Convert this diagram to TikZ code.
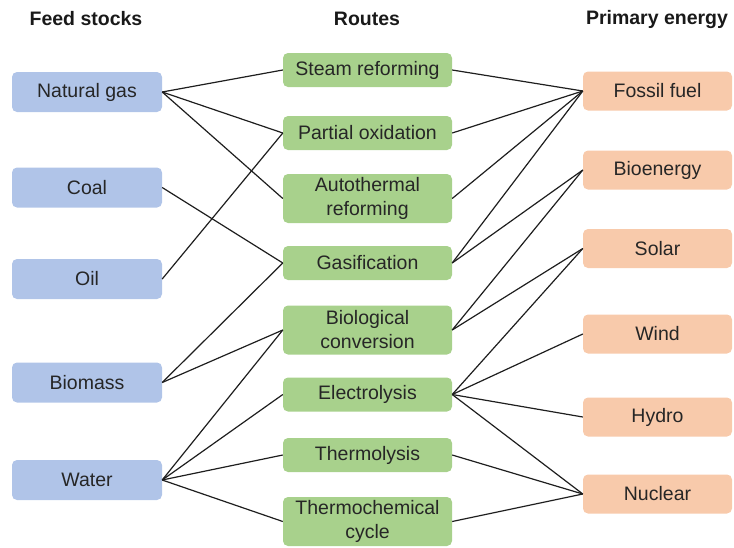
\documentclass[tikz,border=0pt]{standalone}
\usepackage{fontspec}
\setmainfont{Liberation Sans}
\definecolor{feedc}{HTML}{B0C4E8}
\definecolor{routec}{HTML}{A8D18C}
\definecolor{energyc}{HTML}{F8CAAB}
\definecolor{linec}{HTML}{1E1E1E}
\begin{document}
\begin{tikzpicture}[x=1pt,y=-1pt,
  font=\fontsize{19.5}{24}\selectfont,
  box/.style={rounded corners=5pt, inner sep=0pt, align=center, text=black!85},
  feed/.style={box, fill=feedc, minimum width=150pt, minimum height=40pt},
  route/.style={box, fill=routec, minimum width=169pt, minimum height=34pt},
  route2/.style={route, minimum height=49pt},
  energy/.style={box, fill=energyc, minimum width=149pt, minimum height=39pt},
  head/.style={font=\fontsize{19.5}{24}\selectfont\bfseries, text=black!90},
  conn/.style={draw=linec, line width=1.2pt}]
\useasboundingbox (0,0) rectangle (734,547);
% headers
\node[head] (h1) at (86,19) {Feed stocks};
\node[head] (h2) at (367,19) {Routes};
\node[head] (h3) at (657,19) {Primary energy};
% feed stocks
\node[feed] (ng) at (87,92) {Natural gas};
\node[feed] (coal) at (87,187.5) {Coal};
\node[feed] (oil) at (87,279) {Oil};
\node[feed] (bio) at (87,382.5) {Biomass};
\node[feed] (water) at (87,480) {Water};
% routes
\node[route] (steam) at (367.5,70) {Steam reforming};
\node[route] (pox) at (367.5,133) {Partial oxidation};
\node[route2] (atr) at (367.5,198.5) {Autothermal\\reforming};
\node[route] (gas) at (367.5,263) {Gasification};
\node[route2] (bconv) at (367.5,330) {Biological\\conversion};
\node[route] (elec) at (367.5,394.5) {Electrolysis};
\node[route] (therm) at (367.5,455) {Thermolysis};
\node[route2] (tcc) at (367.5,521.5) {Thermochemical\\cycle};
% primary energy
\node[energy] (fossil) at (657.5,91) {Fossil fuel};
\node[energy] (bioe) at (657.5,170) {Bioenergy};
\node[energy] (solar) at (657.5,248.5) {Solar};
\node[energy] (wind) at (657.5,334) {Wind};
\node[energy] (hydro) at (657.5,417) {Hydro};
\node[energy] (nuc) at (657.5,494) {Nuclear};
% feed -> routes
\draw[conn] (ng.east) -- (steam.west);
\draw[conn] (ng.east) -- (pox.west);
\draw[conn] (ng.east) -- (atr.west);
\draw[conn] (coal.east) -- (gas.west);
\draw[conn] (oil.east) -- (pox.west);
\draw[conn] (bio.east) -- (gas.west);
\draw[conn] (bio.east) -- (bconv.west);
\draw[conn] (water.east) -- (bconv.west);
\draw[conn] (water.east) -- (elec.west);
\draw[conn] (water.east) -- (therm.west);
\draw[conn] (water.east) -- (tcc.west);
% routes -> energy
\draw[conn] (steam.east) -- (fossil.west);
\draw[conn] (pox.east) -- (fossil.west);
\draw[conn] (atr.east) -- (fossil.west);
\draw[conn] (gas.east) -- (fossil.west);
\draw[conn] (gas.east) -- (bioe.west);
\draw[conn] (bconv.east) -- (bioe.west);
\draw[conn] (bconv.east) -- (solar.west);
\draw[conn] (elec.east) -- (solar.west);
\draw[conn] (elec.east) -- (wind.west);
\draw[conn] (elec.east) -- (hydro.west);
\draw[conn] (elec.east) -- (nuc.west);
\draw[conn] (therm.east) -- (nuc.west);
\draw[conn] (tcc.east) -- (nuc.west);
\end{tikzpicture}
\end{document}
